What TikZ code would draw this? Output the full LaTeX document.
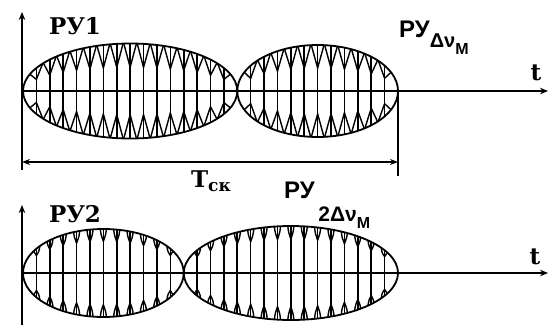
\documentclass[tikz,border=0pt]{standalone}
\usepackage{fontspec}
\setmainfont{DejaVu Serif}
\newfontfamily\lblsans{Liberation Sans}
\usetikzlibrary{arrows.meta}
\begin{document}
\begin{tikzpicture}[x=1pt,y=-1pt,
  axis/.style={line width=1.5pt,-{Stealth[length=8pt,width=6.5pt]}},
  dimline/.style={line width=1.3pt,{Stealth[length=8pt,width=6pt]}-{Stealth[length=8pt,width=6pt]}},
  extline/.style={line width=1.3pt},
  env/.style={line width=1.8pt},
  carrier/.style={line width=1.4pt},
  stem/.style={line width=1.6pt},
  lbl/.style={font=\bfseries\fontsize{23}{23}\selectfont, inner sep=0pt},
  lblb/.style={font=\lblsans\bfseries\fontsize{24}{24}\selectfont, inner sep=0pt, anchor=base west},
]
\useasboundingbox (0,0) rectangle (554,325);
\def\sp{13.3929}
% ---------- top panel ----------
\coordinate (v1top) at (22,12);
\coordinate (v1bot) at (22,170);
\coordinate (o1) at (22,91);
\coordinate (h1end) at (548,91);
\coordinate (e1a) at (398,91);
\coordinate (e1b) at (398,176);
\coordinate (d1a) at (22,162);
\coordinate (d1b) at (398,162);
\draw[axis] (v1bot) -- (v1top);
\draw[axis] (o1) -- (h1end);
\draw[extline] (e1a) -- (e1b);
\draw[dimline] (d1a) -- (d1b);

\foreach \k in {1,...,27}{
  \ifnum\k=16 \else
    \ifnum\k<16 \def\Ecx{130.15}\def\Erx{107.15}\def\Ery{47.5}\else \def\Ecx{317.65}\def\Erx{80.35}\def\Ery{46}\fi
    \pgfmathsetmacro\xx{23+\k*\sp}
    \pgfmathsetmacro\xl{\xx-0.5*\sp}
    \pgfmathsetmacro\xr{\xx+0.5*\sp}
    \pgfmathsetmacro\uu{(\xx-\Ecx)/\Erx}
    \pgfmathsetmacro\hh{\Ery*sqrt(max(0,1-\uu*\uu))}
    \pgfmathsetmacro\uu{(\xl-\Ecx)/\Erx}
    \pgfmathsetmacro\hl{\Ery*sqrt(max(0,1-\uu*\uu))}
    \pgfmathsetmacro\uu{(\xr-\Ecx)/\Erx}
    \pgfmathsetmacro\hr{\Ery*sqrt(max(0,1-\uu*\uu))}
    \begin{scope}
    \clip (\Ecx,91) ellipse [x radius=\Erx, y radius=\Ery];
    \draw[stem] (\xx,91-\hh) -- (\xx,91+\hh);
    \draw[carrier] (\xl,91-1.03*\hl) -- (\xx,91-0.5*\hh) -- (\xr,91-1.03*\hr);
    \draw[carrier] (\xl,91+1.03*\hl) -- (\xx,91+0.5*\hh) -- (\xr,91+1.03*\hr);
    \end{scope}
  \fi
}
\draw[env] (130.15,91) ellipse [x radius=107.15, y radius=47.5];
\draw[env] (317.65,91) ellipse [x radius=80.35, y radius=46];
\draw[line width=1.5pt] (o1) -- (e1a);

% ---------- bottom panel ----------
\coordinate (v2top) at (22,205);
\coordinate (v2bot) at (22,325);
\coordinate (o2) at (22,273);
\coordinate (h2end) at (548,273);
\coordinate (e2a) at (398,273);
\draw[axis] (v2bot) -- (v2top);
\draw[axis] (o2) -- (h2end);

\foreach \k in {1,...,27}{
  \ifnum\k=12 \else
    \ifnum\k<12 \def\Ecx{103.36}\def\Erx{80.36}\def\Ery{44}\else \def\Ecx{290.86}\def\Erx{107.14}\def\Ery{47}\fi
    \pgfmathsetmacro\xx{23+\k*\sp}
    \pgfmathsetmacro\uu{(\xx-\Ecx)/\Erx}
    \pgfmathsetmacro\hh{\Ery*sqrt(max(0,1-\uu*\uu))}
    \begin{scope}
    \clip (\Ecx,273) ellipse [x radius=\Erx, y radius=\Ery];
    \draw[stem] (\xx,273-\hh) -- (\xx,273+\hh);
    \draw[carrier] (\xx-3.3,273-1.15*\hh) .. controls (\xx-3.3,273-0.86*\hh) and (\xx-1,273-0.8*\hh) .. (\xx,273-0.72*\hh)
       .. controls (\xx+1,273-0.8*\hh) and (\xx+3.3,273-0.86*\hh) .. (\xx+3.3,273-1.15*\hh);
    \draw[carrier] (\xx-3.3,273+1.15*\hh) .. controls (\xx-3.3,273+0.86*\hh) and (\xx-1,273+0.8*\hh) .. (\xx,273+0.72*\hh)
       .. controls (\xx+1,273+0.8*\hh) and (\xx+3.3,273+0.86*\hh) .. (\xx+3.3,273+1.15*\hh);
    \end{scope}
  \fi
}
\draw[env] (103.36,273) ellipse [x radius=80.36, y radius=44];
\draw[env] (290.86,273) ellipse [x radius=107.14, y radius=47];
\draw[line width=1.5pt] (o2) -- (e2a);

% ---------- labels ----------
\node[lbl] (ru1) at (75,26) {РУ1};
\node[lbl] (t1) at (536,73) {t};
\node[lbl] (tsk) at (211,181) {T\raisebox{-4pt}{\fontsize{17}{17}\selectfont ск}};
\node[lblb] (rud1) at (399,37) {РУ\raisebox{-10pt}{\fontsize{20}{20}\selectfont Δν\raisebox{-7pt}{\fontsize{16}{16}\selectfont М}}};
\node[lbl] (ru2) at (75,214) {РУ2};
\node[lbl] (t2) at (535,257) {t};
\node[lblb] (rud2) at (284,198) {РУ\raisebox{-23pt}{\fontsize{21}{21}\selectfont\,2Δν\raisebox{-7pt}{\fontsize{16}{16}\selectfont М}}};
\end{tikzpicture}
\end{document}
